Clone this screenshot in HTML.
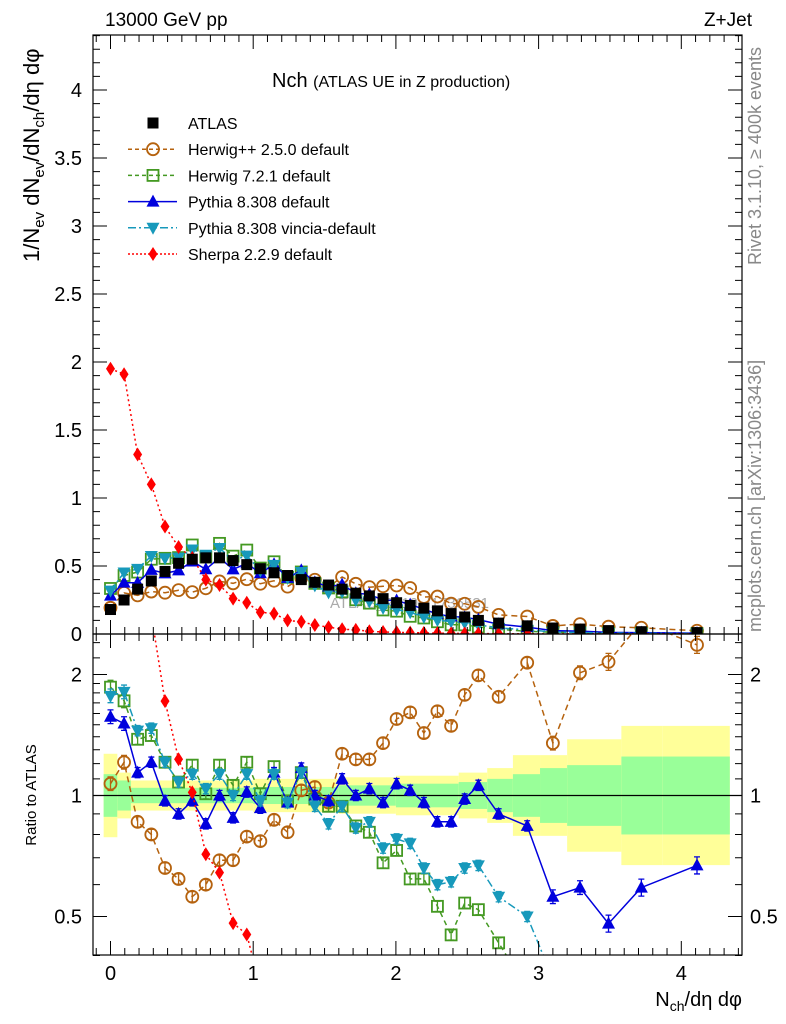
<!DOCTYPE html>
<html><head><meta charset="utf-8">
<style>
html,body{margin:0;padding:0;background:#fff;overflow:hidden;}
svg{display:block;font-family:"Liberation Sans",Arial,sans-serif;}
</style></head>
<body>
<svg id="chart" width="786" height="1024" viewBox="0 0 786 1024" xmlns="http://www.w3.org/2000/svg">
<text x="105" y="26" font-size="19">13000 GeV pp</text>
<text x="752" y="26" font-size="19" text-anchor="end">Z+Jet</text>
<text x="272" y="87" font-size="20">Nch <tspan font-size="16">(ATLAS UE in Z production)</tspan></text>
<text transform="translate(761,265) rotate(-90)" font-size="18" fill="#888">Rivet 3.1.10, ≥ 400k events</text>
<text transform="translate(761,632) rotate(-90)" font-size="18" fill="#888">mcplots.cern.ch [arXiv:1306:3436]</text>
<text transform="translate(39,262) rotate(-90)" font-size="22">1/N<tspan font-size="15" dy="5">ev</tspan><tspan dy="-5"> dN</tspan><tspan font-size="15" dy="5">ev</tspan><tspan dy="-5">/dN</tspan><tspan font-size="15" dy="5">ch</tspan><tspan dy="-5">/dη dφ</tspan></text>
<text transform="translate(36,795) rotate(-90)" font-size="15" text-anchor="middle">Ratio to ATLAS</text>
<text x="742" y="1006" font-size="20" text-anchor="end">N<tspan font-size="14" dy="5">ch</tspan><tspan dy="-5">/dη dφ</tspan></text>
<defs>
<clipPath id="clipTop"><rect x="93" y="35" width="649" height="599"/></clipPath>
<clipPath id="clipRat"><rect x="93" y="634" width="649" height="321"/></clipPath>
</defs>
<g id="top" clip-path="url(#clipTop)"></g>
<g id="rat" clip-path="url(#clipRat)"></g>
<g id="axes"></g>
<g id="legend"></g>
</svg>
<script>
const xs = [0,0.095,0.19,0.286,0.382,0.477,0.573,0.668,0.764,0.859,0.955,1.05,1.146,1.241,1.337,1.432,1.528,1.623,1.719,1.814,1.91,2.005,2.1,2.196,2.291,2.387,2.482,2.578,2.72,2.92,3.10,3.29,3.49,3.72,4.11];
const atlas = [0.18,0.25,0.33,0.39,0.46,0.52,0.55,0.56,0.56,0.54,0.51,0.48,0.45,0.43,0.40,0.38,0.36,0.33,0.30,0.28,0.26,0.23,0.21,0.19,0.17,0.15,0.125,0.10,0.08,0.06,0.044,0.036,0.025,0.017,0.01];
const hppRatio = [1.07,1.21,0.86,0.80,0.66,0.62,0.56,0.60,0.69,0.69,0.79,0.77,0.87,0.81,1.03,1.05,0.96,1.27,1.23,1.23,1.35,1.55,1.61,1.43,1.62,1.49,1.78,1.99,1.76,2.14,1.35,2.02,2.15,2.7,2.37];
const hw7Ratio = [1.86,1.72,1.38,1.41,1.21,1.08,1.19,1.01,1.19,1.06,1.21,1.01,1.18,0.97,1.14,0.98,0.94,0.94,0.84,0.81,0.68,0.73,0.62,0.62,0.53,0.45,0.54,0.52,0.43,0.33,0.3,0.3,0.3,0.3,0.3];
const py8Ratio = [1.57,1.51,1.14,1.21,0.97,0.90,0.97,0.85,1.0,0.88,1.02,0.93,1.14,0.96,1.17,1.0,0.97,1.10,1.0,1.04,0.96,1.07,1.03,0.96,0.86,0.86,0.98,1.06,0.90,0.84,0.56,0.59,0.48,0.59,0.67];
const vinRatio = [1.77,1.81,1.45,1.47,1.21,1.08,1.13,1.04,1.13,1.0,1.13,0.97,1.13,0.96,1.14,0.94,0.85,0.94,0.83,0.86,0.74,0.78,0.76,0.66,0.60,0.61,0.66,0.67,0.56,0.50,0.35,0.3,0.3,0.3,0.3];
const sherpaVals = [1.95,1.91,1.32,1.10,0.79,0.64,0.56,0.40,0.36,0.26,0.23,0.16,0.15,0.10,0.09,0.066,0.05,0.035,0.03,0.02,0.015,0.012,0.01,0.008,0.006,0.005,0.004,0.003,0.002,0.002,0.001,0.001,0.001,0.001,0.001];
const mcErr = [0.04,0.04,0.03,0.03,0.03,0.03,0.03,0.03,0.03,0.03,0.03,0.03,0.03,0.03,0.03,0.03,0.03,0.03,0.03,0.03,0.03,0.03,0.03,0.03,0.03,0.03,0.03,0.03,0.03,0.03,0.04,0.04,0.05,0.05,0.05];
const bandEdges = [-0.048,0.048,0.143,1.0,1.6,2.0,2.44,2.64,2.82,3.01,3.20,3.58,3.87,4.34];
const bandTot = [0.27,0.14,0.09,0.10,0.11,0.12,0.14,0.17,0.26,0.26,0.38,0.49,0.49];
const bandStat = [0.13,0.09,0.045,0.05,0.06,0.07,0.08,0.10,0.13,0.17,0.19,0.25,0.25];
const xTicks = ["0","1","2","3","4"];
const yTicks = ["0","0.5","1","1.5","2","2.5","3","3.5","4"];
const rTicks = ["0.5","1","2"];

const NS="http://www.w3.org/2000/svg";
const L=93,R=742,T=35,M=634,B=955;
const X=v=>110.5+v*142.7;
const Y=v=>634-v*136;
const YR=r=>795.5-121*Math.log2(r);
function mk(tag,attrs,parent){const e=document.createElementNS(NS,tag);for(const k in attrs)e.setAttribute(k,attrs[k]);parent.appendChild(e);return e;}
const gTop=document.getElementById('top'),gRat=document.getElementById('rat'),gAx=document.getElementById('axes'),gLeg=document.getElementById('legend');

for(let i=0;i<bandTot.length;i++){
  const x1=X(bandEdges[i]),x2=X(bandEdges[i+1]);
  const yb=mk('rect',{x:x1,y:YR(1+bandTot[i]),width:x2-x1,height:YR(1/(1+bandTot[i]))-YR(1+bandTot[i]),fill:'#ffff99'},gRat);
  
  
  const gb=mk('rect',{x:x1,y:YR(1+bandStat[i]),width:x2-x1,height:YR(1/(1+bandStat[i]))-YR(1+bandStat[i]),fill:'#99ff99'},gRat);
  
  
}
const one=mk('line',{x1:L,x2:R,y1:YR(1),y2:YR(1),stroke:'#000','stroke-width':1.2},gRat);



const wm=mk('text',{x:330,y:608,'font-size':15,fill:'#aaa'},gTop);
wm.textContent='ATLAS_2019_I1736531';



function marker(g,type,x,y,color){
  let e;
  if(type==='circle') e=mk('circle',{cx:x,cy:y,r:6,fill:'none',stroke:color,'stroke-width':1.8},g);
  else if(type==='osquare') e=mk('rect',{x:x-5.5,y:y-5.5,width:11,height:11,fill:'none',stroke:color,'stroke-width':1.8},g);
  else if(type==='square') e=mk('rect',{x:x-5.5,y:y-5.5,width:11,height:11,fill:color},g);
  else if(type==='tri') e=mk('polygon',{points:`${x},${y-7} ${x-6.5},${y+5} ${x+6.5},${y+5}`,fill:color},g);
  else if(type==='itri') e=mk('polygon',{points:`${x},${y+7} ${x-6.5},${y-5} ${x+6.5},${y-5}`,fill:color},g);
  else if(type==='diamond') e=mk('polygon',{points:`${x},${y-7} ${x-4.5},${y} ${x},${y+7} ${x+4.5},${y}`,fill:color},g);
  return e;
}
const series=[
 {name:'herwigpp',ratio:hppRatio,color:'#b5620e',dash:'6,4',type:'circle'},
 {name:'herwig7',ratio:hw7Ratio,color:'#449922',dash:'5,4',type:'osquare'},
 {name:'pythia8',ratio:py8Ratio,color:'#0000dd',dash:'',type:'tri'},
 {name:'vincia',ratio:vinRatio,color:'#1799bb',dash:'8,3,2,3',type:'itri'},
 {name:'sherpa',ratio:null,vals:sherpaVals,color:'#ff0000',dash:'2,3',type:'diamond'}
];
series.forEach(s=>{
  const vals=s.ratio?s.ratio.map((r,i)=>r*atlas[i]):s.vals;
  const rat=s.ratio?s.ratio:s.vals.map((v,i)=>v/atlas[i]);
  [[gTop,vals,Y],[gRat,rat,YR]].forEach(([g,arr,f],pi)=>{
    const pts=arr.map((v,i)=>`${X(xs[i]).toFixed(1)},${f(v).toFixed(1)}`).join(' ');
    const pl=mk('polyline',{points:pts,fill:'none',stroke:s.color,'stroke-width':1.5,'stroke-dasharray':s.dash},g);
    
    
    arr.forEach((v,i)=>{
      const x=X(xs[i]),y=f(v);
      if(pi===1 && s.ratio){
        const e=mcErr[i];
        const eb=mk('path',{d:`M${x},${f(v*(1+e))}V${f(v/(1+e))}M${x-3},${f(v*(1+e))}h6M${x-3},${f(v/(1+e))}h6`,stroke:s.color,'stroke-width':1.3,fill:'none'},g);
        
        
      }
      const m=marker(g,s.type,x,y,s.color);
      
      
    });
  });
});
atlas.forEach((v,i)=>{
  const m=marker(gTop,'square',X(xs[i]),Y(v),'#000');
  
  
});

[[T,M],[M,B]].forEach(([a,b],k)=>{
  const fr=mk('rect',{x:L,y:a,width:R-L,height:b-a,fill:'none',stroke:'#000','stroke-width':1.2},gAx);
  
  
});
let d='';
for(let k=-1;k<=45;k++){const v=k/10;const x=X(v);if(x<L||x>R)continue;const len=(k%10===0)?14:7;
  d+=`M${x},${M}v${-len}M${x},${T}v${len}M${x},${B}v${-len}M${x},${M}v${len}`;}
for(let k=0;k<=44;k++){const y=Y(k/10);const len=(k%5===0)?14:7;d+=`M${L},${y}h${len}M${R},${y}h${-len}`;}
[0.4,0.5,0.6,0.7,0.8,0.9,1,1.1,1.2,1.3,1.4,1.5,1.6,1.7,1.8,1.9,2,2.2,2.4].forEach(r=>{const y=YR(r);const len=(r===0.5||r===1||r===2)?14:7;d+=`M${L},${y}h${len}M${R},${y}h${-len}`;});
const tk=mk('path',{d:d,stroke:'#000','stroke-width':1,fill:'none'},gAx);


xTicks.forEach((t,i)=>{const e=mk('text',{x:X(+t),y:980,'font-size':20,'text-anchor':'middle'},gAx);e.textContent=t;
  
  });
yTicks.forEach(t=>{const e=mk('text',{x:82,y:Y(+t)+7,'font-size':20,'text-anchor':'end'},gAx);e.textContent=t;
  
  });
rTicks.forEach(t=>{[82,750].forEach(xx=>{const e=mk('text',{x:xx,y:YR(+t)+7,'font-size':20,'text-anchor':xx<400?'end':'start'},gAx);e.textContent=t;
  
  });});

const legItems=[['ATLAS','#000','','square'],['Herwig++ 2.5.0 default','#b5620e','4,3','circle'],['Herwig 7.2.1 default','#449922','4,3','osquare'],['Pythia 8.308 default','#0000dd','','tri'],['Pythia 8.308 vincia-default','#1799bb','8,3,2,3','itri'],['Sherpa 2.2.9 default','#ff0000','2,2','diamond']];
legItems.forEach((it,i)=>{
  const y=123+i*26.2;
  const g=mk('g',{},gLeg);
  
  
  if(i>0) mk('line',{x1:128,x2:177,y1:y,y2:y,stroke:it[1],'stroke-width':1.5,'stroke-dasharray':it[2]},g);
  marker(g,it[3],153,y,it[1]);
  const t=mk('text',{x:188,y:y+6,'font-size':16},g);t.textContent=it[0];
});
</script>
</body></html>
